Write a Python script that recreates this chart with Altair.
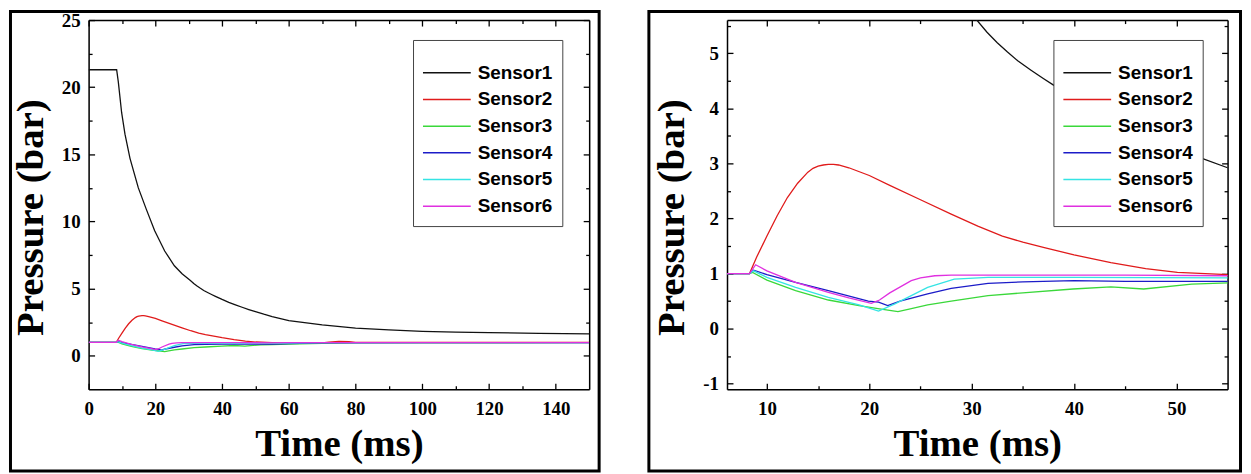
import altair as alt
import pandas as pd

# ---------------- data ----------------
sensors = ["Sensor1", "Sensor2", "Sensor3", "Sensor4", "Sensor5", "Sensor6"]
colors = ["#111111", "#e01b1b", "#3ad83a", "#1c1cc8", "#34e4e4", "#e030e0"]

s1_t = [0, 8.4, 8.9, 9.9, 10.9, 12.4, 14.9, 17.3, 19.8, 22.8, 25.7, 28, 30.5, 31.5,
        32.5, 33.5, 34.5, 35.8, 37, 38, 40, 42, 44, 46, 48, 50, 52.5, 55, 60, 70, 80,
        90, 100, 110, 120, 135, 150]
s1_p = [21.3, 21.3, 20.4, 18.1, 16.5, 14.7, 12.5, 10.9, 9.3, 7.8, 6.7, 6.1, 5.6, 5.38,
        5.19, 5.02, 4.86, 4.69, 4.54, 4.42, 4.19, 3.98, 3.79, 3.61, 3.44, 3.28, 3.09,
        2.92, 2.62, 2.3, 2.05, 1.92, 1.82, 1.76, 1.72, 1.67, 1.63]

s2_t = [0, 8.3, 9, 10, 11, 12, 13, 14, 14.5, 15, 15.5, 16, 16.5, 17, 18, 20, 22, 25,
        28, 30.6, 33, 35, 37.1, 40, 43.6, 47, 50.1, 55, 60, 70, 72, 75, 78, 80, 100, 150]
s2_p = [1.0, 1.0, 1.3, 1.68, 2.05, 2.38, 2.64, 2.84, 2.91, 2.95, 2.97, 2.98, 2.98, 2.97,
        2.92, 2.78, 2.6, 2.34, 2.08, 1.86, 1.68, 1.57, 1.47, 1.34, 1.2, 1.09, 1.02, 0.98,
        0.96, 0.96, 1.02, 1.06, 1.04, 1.0, 0.99, 0.99]

s3_t = [0, 8.3, 8.6, 10, 12.8, 16, 19, 21, 22.8, 24, 25.7, 28, 31.6, 35, 39.9, 43.6,
        46.8, 51.5, 55, 60, 70, 80, 150]
s3_p = [1.0, 1.0, 1.02, 0.88, 0.69, 0.52, 0.42, 0.36, 0.31, 0.36, 0.43, 0.5, 0.6, 0.65,
        0.72, 0.76, 0.72, 0.81, 0.83, 0.87, 0.93, 0.96, 0.97]

s4_t = [0, 8.3, 8.7, 10, 12.8, 16, 19.9, 20.9, 21.8, 23, 25.7, 28, 31.6, 35, 40, 45,
        50, 55, 60, 70, 100, 150]
s4_p = [1.0, 1.0, 1.06, 0.98, 0.84, 0.69, 0.5, 0.48, 0.42, 0.5, 0.63, 0.73, 0.82, 0.85,
        0.87, 0.86, 0.86, 0.86, 0.9, 0.95, 0.97, 0.97]

s5_t = [0, 8.3, 8.7, 10, 12.8, 16, 19, 20.9, 22.5, 25.7, 28.3, 31.6, 40, 55, 60, 70, 150]
s5_p = [1.0, 1.0, 1.05, 0.93, 0.75, 0.57, 0.43, 0.32, 0.45, 0.75, 0.9, 0.93, 0.93, 0.92,
        0.94, 0.97, 0.97]

s6_t = [0, 8.3, 8.9, 10, 12.8, 16, 18, 20.2, 21, 22, 24.1, 25, 26.4, 28, 35, 45, 55,
        60, 70, 100, 150]
s6_p = [1.0, 1.0, 1.16, 1.05, 0.84, 0.66, 0.56, 0.46, 0.52, 0.65, 0.87, 0.92, 0.96,
        0.97, 0.97, 0.97, 0.96, 0.97, 0.98, 0.98, 0.98]

# tick values
left_x_major = [0, 20, 40, 60, 80, 100, 120, 140]
left_x_minor = [10, 30, 50, 70, 90, 110, 130]
left_y_major = [0, 5, 10, 15, 20, 25]
left_y_minor = [2.5, 7.5, 12.5, 17.5, 22.5]
right_x_major = [10, 20, 30, 40, 50]
right_x_minor = [15, 25, 35, 45]
right_y_major = [-1, 0, 1, 2, 3, 4, 5]
right_y_minor = [-0.5, 0.5, 1.5, 2.5, 3.5, 4.5, 5.5]

series_t = [s1_t, s2_t, s3_t, s4_t, s5_t, s6_t]
series_p = [s1_p, s2_p, s3_p, s4_p, s5_p, s6_p]

rows = []
for name, ts, ps in zip(sensors, series_t, series_p):
    for t, p in zip(ts, ps):
        rows.append({"t": t, "p": p, "sensor": name})
df = pd.DataFrame(rows)
frame_df = pd.DataFrame({"a": [0]})

W, H = 503, 371
SERIF = "Liberation Serif"
SANS = "Liberation Sans"


def axis(orient, values, size, labels=False, title=None, lpad=0, tpad=0, title_y=None,
         domain=True):
    kw = dict(orient=orient, values=values, tickSize={"expr": str(-size)},
              domain=domain, labels=labels, title=title)
    if labels:
        kw.update(labelPadding=lpad, labelExpr="'' + datum.value",
                  labelFont=SERIF, labelFontWeight="bold", labelFontSize=19,
                  labelColor="black")
    if title:
        kw.update(titlePadding=tpad)
    if title_y is not None:
        kw.update(titleY=title_y)
    return alt.Axis(**kw)


def panel(xdom, ydom, xmaj, xmin, ymaj, ymin, legend_x, frame_right):
    xs = alt.Scale(domain=xdom, nice=False, zero=False)
    ys = alt.Scale(domain=ydom, nice=False, zero=False)
    base = alt.Chart(df)

    lines = base.mark_line(clip=True, strokeWidth=1.3).encode(
        x=alt.X("t:Q", scale=xs,
                axis=axis("bottom", xmaj, 6, labels=True, title="Time (ms)",
                          lpad=16.5, tpad=6.5)),
        y=alt.Y("p:Q", scale=ys,
                axis=axis("left", ymaj, 6, labels=True, title="Pressure (bar)",
                          lpad=14.5, tpad=11, title_y=198)),
        color=alt.Color("sensor:N",
                        scale=alt.Scale(domain=sensors, range=colors),
                        legend=alt.Legend(orient="none", legendX=legend_x, legendY=20,
                                          title=" ", titleFontSize=12, titlePadding=0,
                                          padding=10, strokeColor="#444444",
                                          fillColor="white",
                                          symbolType="M-2.4,0H2.4", symbolSize=400,
                                          symbolStrokeWidth=1.5, symbolOffset=13,
                                          labelOffset=20, labelFont=SANS,
                                          labelFontWeight="bold", labelFontSize=19,
                                          labelColor="black", rowPadding=5.8)),
    )

    top_right = base.mark_line(opacity=0, clip=True).encode(
        x=alt.X("t:Q", scale=xs, axis=axis("top", xmaj, 6)),
        y=alt.Y("p:Q", scale=ys, axis=axis("right", ymaj, 6)),
    )
    minor_bl = base.mark_line(opacity=0, clip=True).encode(
        x=alt.X("t:Q", scale=xs, axis=axis("bottom", xmin, 3.5, domain=False)),
        y=alt.Y("p:Q", scale=ys, axis=axis("left", ymin, 3.5, domain=False)),
    )
    minor_tr = base.mark_line(opacity=0, clip=True).encode(
        x=alt.X("t:Q", scale=xs, axis=axis("top", xmin, 3.5, domain=False)),
        y=alt.Y("p:Q", scale=ys, axis=axis("right", ymin, 3.5, domain=False)),
    )
    frame = alt.Chart(frame_df).mark_rect(fillOpacity=0, stroke="black",
                                          strokeWidth=3).encode(
        x=alt.value(-78.5), x2=alt.value(W + frame_right),
        y=alt.value(-8.5), y2=alt.value(H + 82),
    )
    return alt.layer(lines, top_right, minor_bl, minor_tr, frame).resolve_axis(
        x="independent", y="independent"
    ).properties(width=W, height=H)


left = panel([0, 150], [-2.5, 25], left_x_major, left_x_minor,
             left_y_major, left_y_minor, 326, 10)
right = panel([6.1, 55], [-1.1, 5.6], right_x_major, right_x_minor,
              right_y_major, right_y_minor, 328, 13)

chart = alt.hconcat(left, right, spacing=45.5, padding=0).resolve_legend(
    color="independent"
).configure_view(stroke=None).configure(background="white").configure_axis(
    labelFont=SERIF, labelFontWeight="bold", labelFontSize=19, labelColor="black",
    labelFlush=False, labelOverlap=False,
    titleFont=SERIF, titleFontWeight="bold", titleFontSize=39, titleColor="black",
    tickColor="black", tickWidth=1.3, grid=False,
    domainColor="black", domainWidth=1.5,
)

chart.save("out.html", embed_options={"renderer": "svg", "actions": False})
